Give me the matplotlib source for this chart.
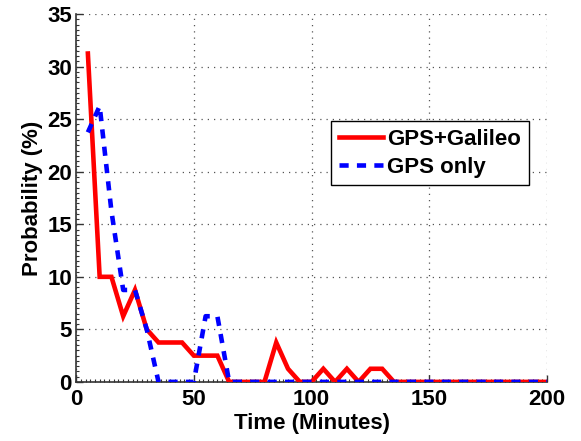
import matplotlib
matplotlib.use("Agg")
import matplotlib.pyplot as plt
from matplotlib.ticker import MultipleLocator

plt.rcParams['font.family'] = ['Liberation Sans', 'DejaVu Sans']
plt.rcParams['font.weight'] = 'bold'

time_min = [5, 10, 15, 20, 25, 30, 35, 40, 45, 50, 55, 60, 65, 70, 75, 80, 85, 90, 95,
            100, 105, 110, 115, 120, 125, 130, 135, 140, 145, 150, 155, 160, 165, 170,
            175, 180, 185, 190, 195, 200]
gps_galileo = [31.25, 10, 10, 6.25, 8.75, 5, 3.75, 3.75, 3.75, 2.5, 2.5, 2.5, 0, 0, 0, 0,
               3.75, 1.25, 0, 0, 1.25, 0, 1.25, 0, 1.25, 1.25, 0, 0, 0, 0, 0, 0, 0, 0,
               0, 0, 0, 0, 0, 0]
gps_only = [23.75, 26.25, 16.25, 8.75, 8.75, 5, 0, 0, 0, 0, 6.25, 6.25, 0, 0, 0, 0,
            0, 0, 0, 0, 0, 0, 0, 0, 0, 0, 0, 0, 0, 0, 0, 0, 0, 0,
            0, 0, 0, 0, 0, 0]
x_ticks = [0, 50, 100, 150, 200]
y_ticks = [0, 5, 10, 15, 20, 25, 30, 35]

fig = plt.figure(figsize=(5.81, 4.41), dpi=100)
ax = fig.add_axes([0.131, 0.134, 0.8105, 0.834])

ax.plot(time_min, gps_galileo, color=(1, 0, 0), lw=3.3, label='GPS+Galileo',
        solid_joinstyle='miter', zorder=3)
ax.plot(time_min, gps_only, color=(0, 0, 1), lw=3.3, dashes=(2.0, 1.8),
        label='GPS only', zorder=4)

ax.set_xlim(0, 200)
ax.set_ylim(0, 35)
ax.set_xticks(x_ticks)
ax.set_yticks(y_ticks)
ax.xaxis.set_minor_locator(MultipleLocator(2))
ax.yaxis.set_minor_locator(MultipleLocator(0.5))
ax.tick_params(which='both', direction='in', labelsize=16, color='#333333')
ax.tick_params(which='major', length=5, width=1)
ax.tick_params(which='minor', length=2.5, width=0.8)
ax.tick_params(axis='x', pad=5)
ax.tick_params(axis='y', pad=3)
for lab in ax.get_xticklabels() + ax.get_yticklabels():
    lab.set_fontweight('bold')

for s in ['top', 'right']:
    ax.spines[s].set_visible(False)
for s in ['left', 'bottom']:
    ax.spines[s].set_color('#333333')
    ax.spines[s].set_linewidth(1.2)

ax.grid(True, which='major', linestyle=(0, (1, 4)), color='#555555', lw=0.9)
ax.set_axisbelow(True)

ax.set_xlabel('Time (Minutes)', fontsize=16, fontweight='bold', labelpad=2)
ax.set_ylabel('Probability (%)', fontsize=16, fontweight='bold', labelpad=3)

leg = ax.legend(loc='upper right', bbox_to_anchor=(0.962, 0.709), fontsize=16,
                frameon=True, fancybox=False, edgecolor='black', framealpha=1,
                handlelength=2.0, handletextpad=0.2, borderpad=0.35,
                labelspacing=0.3, borderaxespad=0)
leg.get_frame().set_linewidth(1.0)
for t in leg.get_texts():
    t.set_fontweight('bold')

fig.savefig('out.png', dpi=100)
